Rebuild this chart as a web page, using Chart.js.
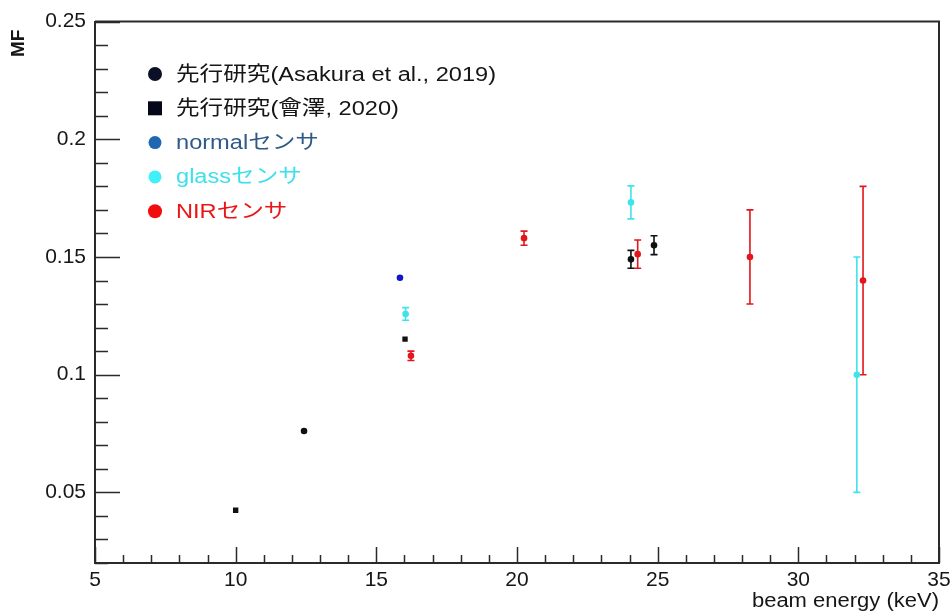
<!DOCTYPE html>
<html>
<head>
<meta charset="utf-8">
<script src="https://cdn.jsdelivr.net/npm/chart.js@4.4.1/dist/chart.umd.min.js"></script>
<style>
  html, body { margin: 0; padding: 0; background: #fff; }
  #mfChart { display: block; }
</style>
</head>
<body>
<canvas id="mfChart" width="952" height="615"></canvas>
<script>
// axis ranges and labelled ticks
const xMin = 5, xMax = 35;
const yMin = 0.02, yMax = 0.25;
const xTickValues = [5, 10, 15, 20, 25, 30, 35];
const yTickValues = [0.05, 0.1, 0.15, 0.2, 0.25];

// 先行研究 (Asakura et al., 2019)
const asakuraX = [12.43, 24.05, 24.87];
const asakuraY = [0.0761, 0.149, 0.155];
const asakuraErr = [0, 0.0038, 0.004];

// 先行研究 (會澤, 2020)
const aizawaX = [10.0, 16.02];
const aizawaY = [0.0424, 0.1151];
const aizawaErr = [0, 0];

// normal センサ
const normalX = [15.84];
const normalY = [0.1412];
const normalErr = [0];

// glass センサ
const glassX = [16.04, 24.05, 32.08];
const glassY = [0.1258, 0.1732, 0.100];
const glassErr = [0.0027, 0.007, 0.05];

// NIR センサ
const nirX = [16.23, 20.25, 24.29, 28.28, 32.3];
const nirY = [0.108, 0.158, 0.1512, 0.150, 0.140];
const nirErr = [0.002, 0.003, 0.006, 0.02, 0.04];

const legendLabels = [
  '先行研究(Asakura et al., 2019)',
  '先行研究(會澤, 2020)',
  'normalセンサ',
  'glassセンサ',
  'NIRセンサ'
];

const FONT = '"Liberation Sans", Arial, Helvetica, "Noto Sans CJK JP", sans-serif';

function toPoints(xs, ys, errs) {
  return xs.map((x, i) => ({ x: x, y: ys[i], err: errs[i] }));
}

function makeSet(label, xs, ys, errs, color, shape, radius, legendColor, textColor, legendShape) {
  return {
    label: label,
    data: toPoints(xs, ys, errs),
    pointStyle: shape,
    pointRadius: radius,
    pointBackgroundColor: color,
    pointBorderColor: color,
    pointBorderWidth: 0,
    showLine: false,
    errColor: color,
    legendColor: legendColor,
    textColor: textColor,
    legendShape: legendShape
  };
}

const datasets = [
  makeSet(legendLabels[0], asakuraX, asakuraY, asakuraErr, '#111111', 'circle', 3.3, '#0b1026', '#161616', 'circle'),
  makeSet(legendLabels[1], aizawaX, aizawaY, aizawaErr, '#111111', 'rect', 3.8, '#05081a', '#161616', 'rect'),
  makeSet(legendLabels[2], normalX, normalY, normalErr, '#1414c8', 'circle', 3.3, '#1e68b2', '#2f5a86', 'circle'),
  makeSet(legendLabels[3], glassX, glassY, glassErr, '#3ee4ec', 'circle', 3.3, '#3ff0f8', '#3ee0ec', 'circle'),
  makeSet(legendLabels[4], nirX, nirY, nirErr, '#e3161c', 'circle', 3.3, '#f20c0c', '#ea1515', 'circle')
];

// stretched text, the labels in this plot run a bit wide
function wideText(ctx, text, x, y, sx, align) {
  ctx.save();
  ctx.translate(x, y);
  ctx.scale(sx, 1);
  ctx.textAlign = align || 'left';
  ctx.fillText(text, 0, 0);
  ctx.restore();
}

const rootStyle = {
  id: 'rootStyle',
  beforeDatasetsDraw(chart) {
    const ctx = chart.ctx;
    const xs = chart.scales.x, ys = chart.scales.y;
    // vertical error bars with small caps
    chart.data.datasets.forEach(ds => {
      ctx.save();
      ctx.strokeStyle = ds.errColor;
      ctx.lineWidth = 1.6;
      ds.data.forEach(p => {
        if (!p.err) return;
        const px = xs.getPixelForValue(p.x);
        const top = ys.getPixelForValue(p.y + p.err);
        const bot = ys.getPixelForValue(p.y - p.err);
        ctx.beginPath();
        ctx.moveTo(px, top); ctx.lineTo(px, bot);
        ctx.moveTo(px - 3.5, top); ctx.lineTo(px + 3.5, top);
        ctx.moveTo(px - 3.5, bot); ctx.lineTo(px + 3.5, bot);
        ctx.stroke();
      });
      ctx.restore();
    });
  },
  afterDraw(chart) {
    const ctx = chart.ctx;
    const area = chart.chartArea;
    const xs = chart.scales.x, ys = chart.scales.y;
    ctx.save();
    ctx.strokeStyle = '#2a2a2a';

    // frame on the top and right side
    ctx.lineWidth = 2;
    ctx.beginPath();
    ctx.moveTo(area.left, area.top);
    ctx.lineTo(area.right, area.top);
    ctx.lineTo(area.right, area.bottom);
    ctx.stroke();

    // inward ticks, x axis
    ctx.lineWidth = 1.5;
    ctx.beginPath();
    for (let v = xMin; v <= xMax; v += 1) {
      const px = Math.round(xs.getPixelForValue(v)) + 0.5;
      const len = (v % 5 === 0) ? 16 : 8;
      ctx.moveTo(px, area.bottom);
      ctx.lineTo(px, area.bottom - len);
    }
    // inward ticks, y axis
    for (let k = 2; k <= 25; k++) {
      const py = Math.round(ys.getPixelForValue(k / 100)) + 0.5;
      const len = (k % 5 === 0) ? 25 : 13;
      ctx.moveTo(area.left, py);
      ctx.lineTo(area.left + len, py);
    }
    ctx.stroke();

    // axis titles
    ctx.fillStyle = '#161616';
    ctx.textBaseline = 'middle';
    ctx.font = '20px ' + FONT;
    wideText(ctx, 'beam energy (keV)', area.right, 601, 1.1, 'right');
    ctx.save();
    ctx.translate(19, area.top);
    ctx.rotate(-Math.PI / 2);
    ctx.font = 'bold 19px ' + FONT;
    ctx.textAlign = 'right';
    ctx.fillText('MF', -8, 0);
    ctx.restore();

    // legend inside the frame
    const lx = 155, ly = 74, step = 34.3;
    chart.data.datasets.forEach((ds, i) => {
      const cy = ly + i * step;
      ctx.fillStyle = ds.legendColor;
      ctx.beginPath();
      if (ds.legendShape === 'rect') {
        ctx.rect(lx - 7, cy - 7, 14, 14);
      } else {
        ctx.arc(lx, cy, i < 2 || i === 4 ? 7 : 6.5, 0, Math.PI * 2);
      }
      ctx.fill();
      ctx.fillStyle = ds.textColor;
      ctx.font = '20px ' + FONT;
      wideText(ctx, ds.label, 176, cy + 1, 1.18, 'left');
    });
    ctx.restore();
  }
};

const ctx = document.getElementById('mfChart').getContext('2d');
new Chart(ctx, {
  type: 'scatter',
  data: { datasets: datasets },
  options: {
    responsive: false,
    animation: false,
    events: [],
    layout: { padding: { left: 0, right: 13, top: 17, bottom: 0 } },
    plugins: {
      legend: { display: false },
      tooltip: { enabled: false }
    },
    scales: {
      x: {
        type: 'linear',
        min: xMin,
        max: xMax,
        afterBuildTicks: s => { s.ticks = xTickValues.map(v => ({ value: v })); },
        afterFit: s => { s.height = 52; s.paddingRight = 0; },
        grid: { display: false, drawTicks: false },
        border: { display: true, color: '#2a2a2a', width: 2 },
        ticks: {
          color: '#161616',
          padding: 5,
          maxRotation: 0,
          font: { family: FONT, size: 21 },
          callback: v => String(v)
        }
      },
      y: {
        type: 'linear',
        min: yMin,
        max: yMax,
        afterBuildTicks: s => { s.ticks = yTickValues.map(v => ({ value: v })); },
        afterFit: s => { s.width = 95; },
        grid: { display: false, drawTicks: false },
        border: { display: true, color: '#2a2a2a', width: 2 },
        ticks: {
          color: '#161616',
          padding: 9,
          font: { family: FONT, size: 21 },
          callback: v => String(Math.round(v * 100) / 100)
        }
      }
    }
  },
  plugins: [rootStyle]
});
</script>
</body>
</html>
